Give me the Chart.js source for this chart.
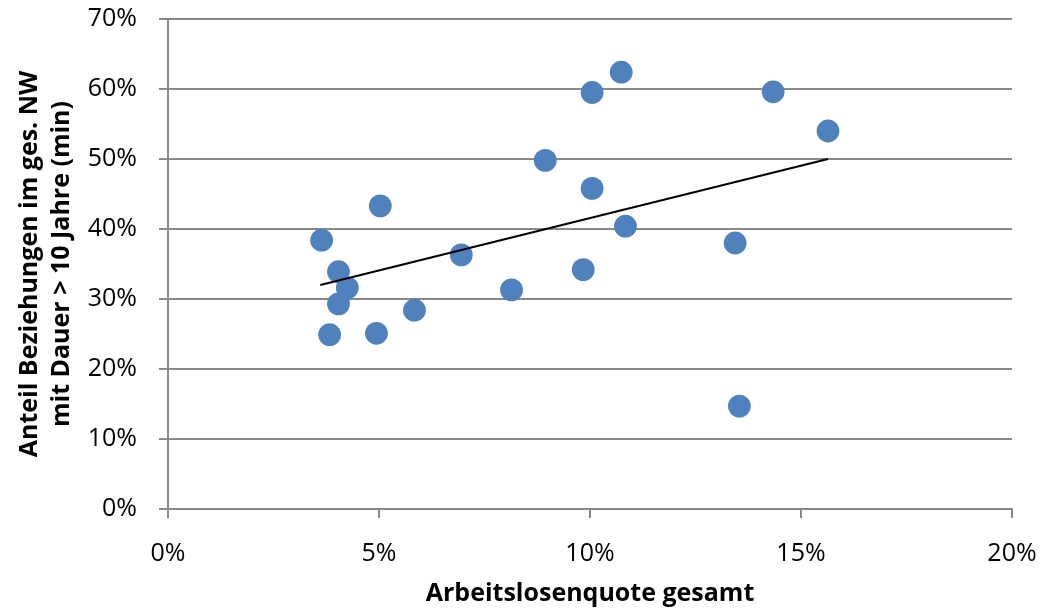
<!DOCTYPE html>
<html lang="de">
<head>
<meta charset="utf-8">
<title>Arbeitslosenquote vs. Beziehungsdauer</title>
<script src="https://cdn.jsdelivr.net/npm/chart.js@4.4.1/dist/chart.umd.min.js"></script>
<style>
    html, body { margin: 0; padding: 0; background: #fff; }
    #wrap { width: 1043px; height: 613px; }
</style>
</head>
<body>
<div id="wrap"><canvas id="scatterChart"></canvas></div>
<script>
// Arbeitslosenquote gesamt (%)
const quote = [3.64, 4.04, 4.25, 4.04, 3.83, 5.03, 4.94, 5.84, 6.95, 8.14,
               8.94, 9.84, 10.05, 10.05, 10.74, 10.84, 13.44, 13.54, 14.34, 15.64];
// Anteil Beziehungen > 10 Jahre (%)
const anteil = [38.4, 33.9, 31.6, 29.3, 24.9, 43.3, 25.1, 28.4, 36.3, 31.3,
                49.8, 34.2, 59.5, 45.8, 62.4, 40.4, 38.0, 14.7, 59.6, 54.0];

// linear trend, start and end
const trendX = [3.61, 15.64];
const trendY = [32.0, 50.0];

const xTicks = [0, 5, 10, 15, 20];
const yTicks = [0, 10, 20, 30, 40, 50, 60, 70];

const gray = '#898989';
const tickFont = { family: '"Open Sans", sans-serif', size: 25 };
const titleFont = { family: '"Open Sans", sans-serif', size: 25, weight: 'bold', lineHeight: 1.28 };

const points = quote.map((q, i) => ({ x: q, y: anteil[i] }));
const trend = trendX.map((t, i) => ({ x: t, y: trendY[i] }));

const ctx = document.getElementById('scatterChart').getContext('2d');

new Chart(ctx, {
    type: 'scatter',
    data: {
        datasets: [
            {
                label: 'Trend',
                data: trend,
                showLine: true,
                borderColor: '#000',
                borderWidth: 2,
                pointRadius: 0,
                order: 0
            },
            {
                label: 'Regionen',
                data: points,
                backgroundColor: '#4F81BD',
                borderWidth: 0,
                pointRadius: 11.4,
                order: 1
            }
        ]
    },
    options: {
        responsive: true,
        maintainAspectRatio: false,
        animation: false,
        layout: { padding: { left: 0, top: 19, right: 31, bottom: 3 } },
        plugins: {
            legend: { display: false },
            tooltip: { enabled: false }
        },
        scales: {
            x: {
                type: 'linear',
                min: 0,
                max: 20,
                afterBuildTicks: scale => { scale.ticks = xTicks.map(v => ({ value: v })); },
                afterFit: scale => {
                    scale.height = 101;
                    // label overflow is covered by the layout padding
                    scale.paddingLeft = 0;
                    scale.paddingRight = 0;
                },
                ticks: {
                    color: '#000',
                    font: tickFont,
                    padding: 21,
                    maxRotation: 0,
                    callback: v => v + '%'
                },
                grid: {
                    drawOnChartArea: false,
                    drawTicks: true,
                    tickLength: 9,
                    color: gray,
                    lineWidth: 2
                },
                border: { display: true, color: gray, width: 2 },
                title: {
                    display: true,
                    text: 'Arbeitslosenquote gesamt',
                    color: '#000',
                    font: titleFont,
                    padding: { top: 0, bottom: 0 }
                }
            },
            y: {
                type: 'linear',
                min: 0,
                max: 70,
                afterBuildTicks: scale => { scale.ticks = yTicks.map(v => ({ value: v })); },
                afterFit: scale => {
                    scale.width = 168;
                    scale.paddingTop = 0;
                    scale.paddingBottom = 0;
                },
                ticks: {
                    color: '#000',
                    font: tickFont,
                    padding: 22,
                    callback: v => v + '%'
                },
                grid: {
                    drawOnChartArea: true,
                    drawTicks: true,
                    tickLength: 9,
                    color: gray,
                    lineWidth: 2
                },
                border: { display: true, color: gray, width: 2 },
                title: {
                    display: true,
                    text: ['Anteil Beziehungen im ges. NW', 'mit Dauer > 10 Jahre (min)'],
                    color: '#000',
                    font: titleFont,
                    padding: { top: 14, bottom: 0 }
                }
            }
        }
    }
});
</script>
</body>
</html>
